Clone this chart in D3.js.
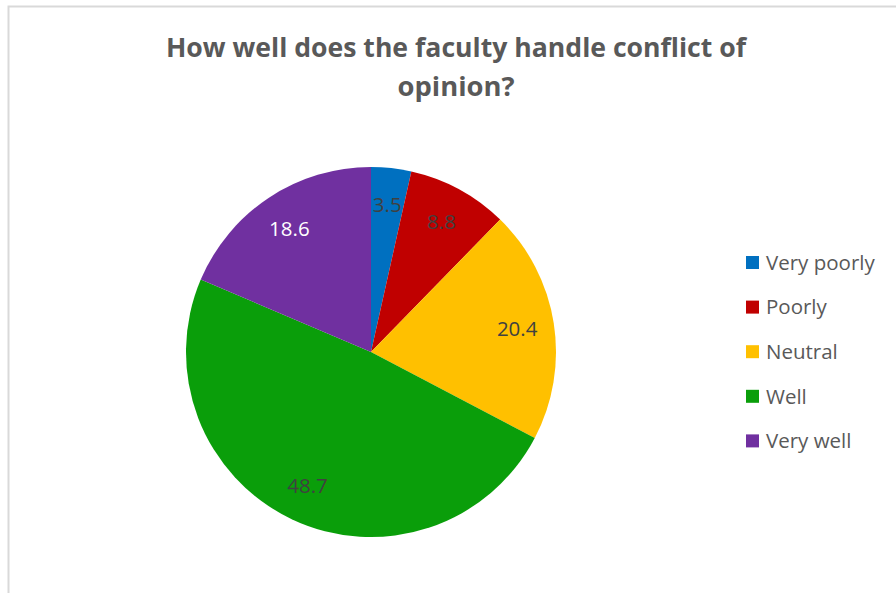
<!DOCTYPE html>
<html>
<head>
<meta charset="utf-8">
<script src="https://cdn.jsdelivr.net/npm/d3@7"></script>
<style>
  html, body { margin: 0; padding: 0; background: #fff; }
  svg { display: block; }
</style>
</head>
<body>
<svg id="chart" width="896" height="593"></svg>
<script>
// Survey responses (percent)
const categories = ["Very poorly", "Poorly", "Neutral", "Well", "Very well"];
const values = [3.5, 8.8, 20.4, 48.7, 18.6];
const colors = ["#0070C0", "#C00000", "#FFC000", "#0A9E0A", "#7030A0"];
const labelColors = ["#404040", "#404040", "#404040", "#404040", "#ffffff"];
const titleLines = ["How well does the faculty handle conflict of", "opinion?"];

const svg = d3.select("#chart");
const font = "'Open Sans', 'Liberation Sans', sans-serif";

// Chart area border
svg.append("rect")
  .attr("x", 8.5).attr("y", 6.5)
  .attr("width", 900).attr("height", 600)
  .attr("fill", "#fff")
  .attr("stroke", "#d9d9d9").attr("stroke-width", 2);

// Title (condensed to the heading's line widths)
const titleWidths = [580, 117];
const titleBaselines = [57, 96];
svg.append("g").selectAll("text")
  .data(titleLines)
  .join("text")
  .attr("x", 456)
  .attr("y", (d, i) => titleBaselines[i])
  .attr("text-anchor", "middle")
  .attr("font-family", font).attr("font-weight", "bold")
  .attr("font-size", 27.5).attr("fill", "#595959")
  .attr("textLength", (d, i) => titleWidths[i])
  .attr("lengthAdjust", "spacingAndGlyphs")
  .text(d => d);

// Pie
const cx = 371, cy = 352, r = 185;
const pie = d3.pie().sort(null).value(d => d)(values);
const arc = d3.arc().innerRadius(0).outerRadius(r);
const labelArc = d3.arc().innerRadius(r * 0.8).outerRadius(r * 0.8);

const g = svg.append("g").attr("transform", `translate(${cx},${cy})`);
g.selectAll("path.slice")
  .data(pie)
  .join("path")
  .attr("class", "slice")
  .attr("d", arc)
  .attr("fill", (d, i) => colors[i]);

g.selectAll("text.value")
  .data(pie)
  .join("text")
  .attr("class", "value")
  .attr("transform", d => `translate(${labelArc.centroid(d)})`)
  .attr("text-anchor", "middle")
  .attr("dy", "0.36em")
  .attr("font-family", font)
  .attr("font-size", 20.5)
  .attr("fill", (d, i) => labelColors[i])
  .text(d => d.data.toFixed(1));

// Legend
const legend = svg.append("g").attr("transform", "translate(746,262.5)");
const rows = legend.selectAll("g")
  .data(categories)
  .join("g")
  .attr("transform", (d, i) => `translate(0,${i * 44.6})`);
rows.append("rect")
  .attr("x", 0).attr("y", -6.5)
  .attr("width", 13).attr("height", 13)
  .attr("fill", (d, i) => colors[i]);
rows.append("text")
  .attr("x", 20).attr("y", 0)
  .attr("dy", "0.36em")
  .attr("font-family", font)
  .attr("font-size", 20.5)
  .attr("fill", "#595959")
  .text(d => d);
</script>
</body>
</html>
